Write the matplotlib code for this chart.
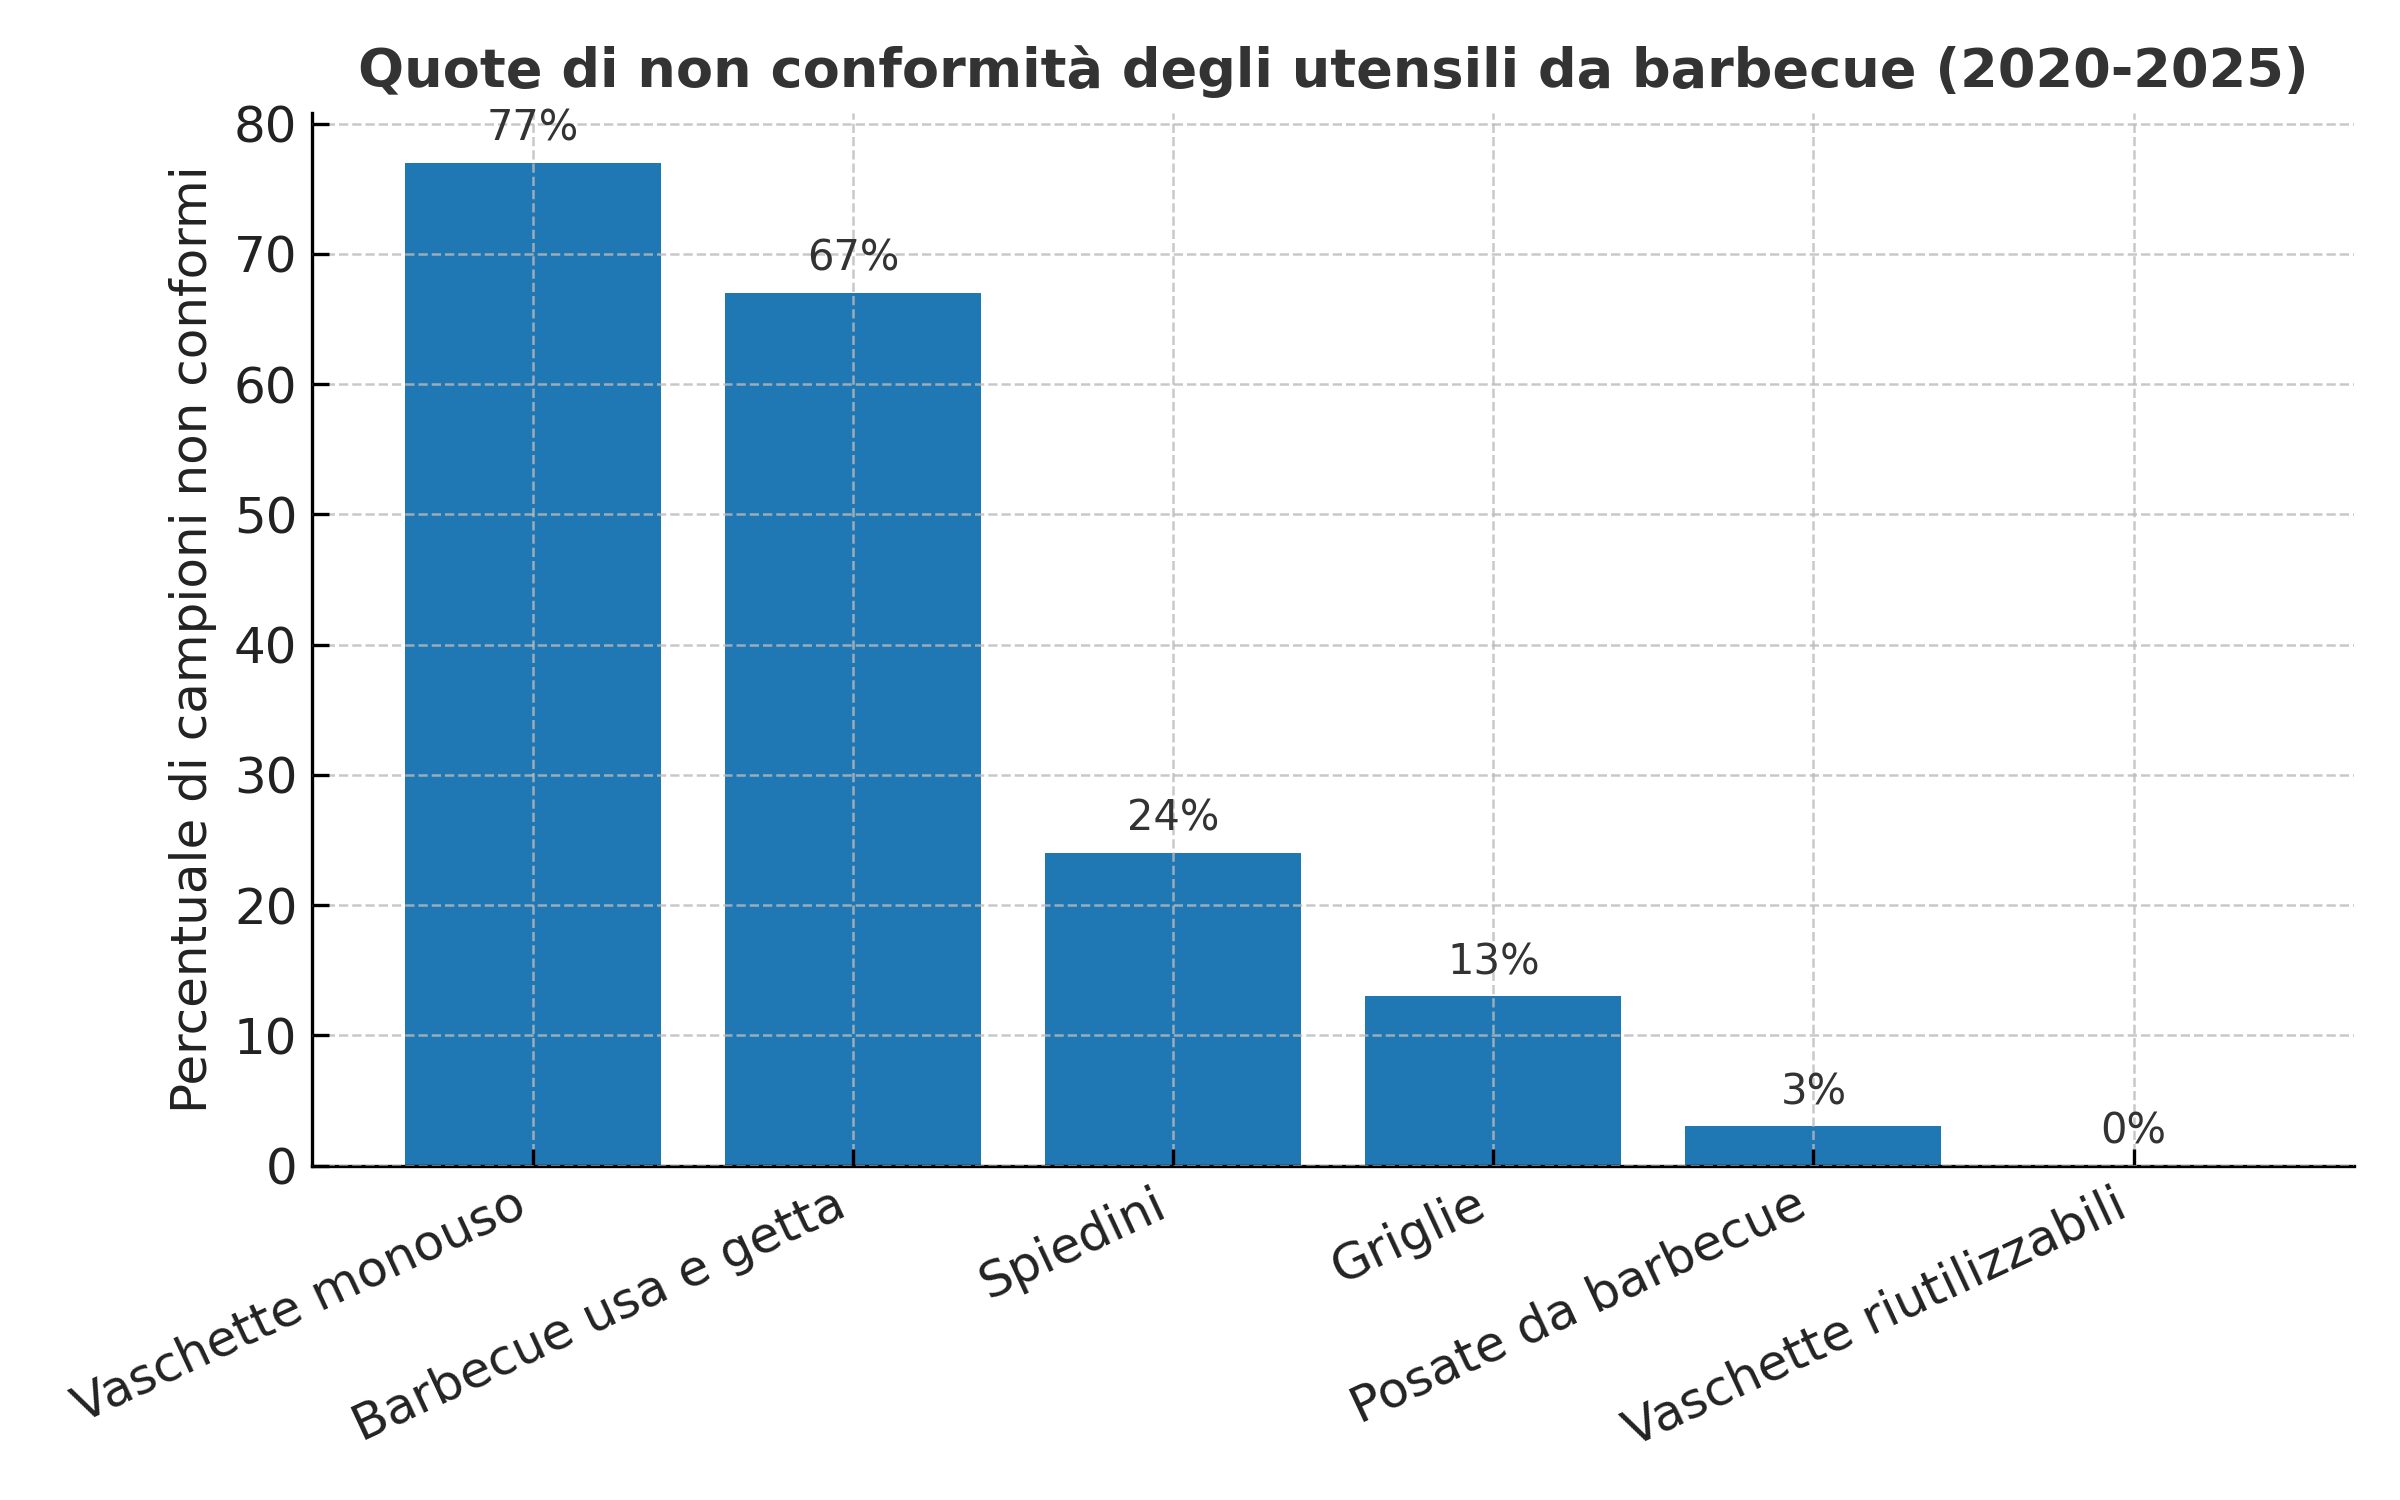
import matplotlib
matplotlib.use('Agg')
import matplotlib.pyplot as plt

categorie = ['Vaschette monouso', 'Barbecue usa e getta', 'Spiedini', 'Griglie',
             'Posate da barbecue', 'Vaschette riutilizzabili']
percentuali = [77, 67, 24, 13, 3, 0]

plt.rcParams['font.family'] = 'DejaVu Sans'

fig, ax = plt.subplots(figsize=(8, 5), dpi=300)
fig.subplots_adjust(left=0.13, right=0.981, bottom=0.223, top=0.925)

x = range(len(categorie))
bars = ax.bar(x, percentuali, width=0.8, color='#1f77b4', zorder=1)
for xi, v in zip(x, percentuali):
    ax.text(xi, v + 1, '%d%%' % v, ha='center', va='bottom', fontsize=10, color='#333333')

ax.set_xticks(list(x))
ax.set_xticklabels(categorie, rotation=25, ha='right', fontsize=12, color='#222222')
ax.tick_params(axis='y', labelsize=12, labelcolor='#222222')
ax.tick_params(direction='in', length=4, width=0.8)
ax.set_ylabel('Percentuale di campioni non conformi', fontsize=12, color='#222222')
ax.set_title('Quote di non conformità degli utensili da barbecue (2020-2025)',
             fontsize=13, fontweight='bold', color='#333333')

ax.grid(True, linestyle='--', color='#bbbbbb', linewidth=0.6, alpha=0.8, zorder=2)
ax.set_axisbelow(False)
ax.spines['top'].set_visible(False)
ax.spines['right'].set_visible(False)

fig.savefig('out.png', dpi=300)
